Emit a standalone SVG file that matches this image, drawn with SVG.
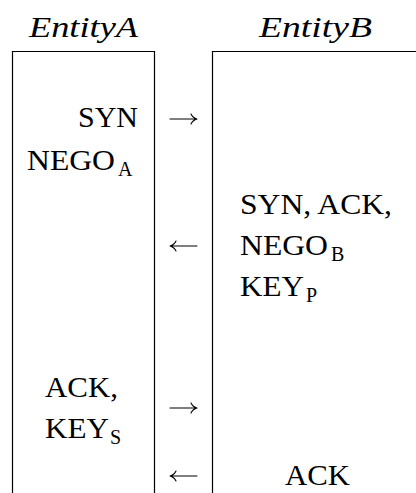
<svg xmlns="http://www.w3.org/2000/svg" width="416" height="493" viewBox="0 0 416 493">
<style>
  .t { font-family: "Liberation Serif", "DejaVu Serif", serif; font-size: 29px; fill: #000; }
  .h { font-style: italic; }
  .s { font-family: "Liberation Serif", "DejaVu Serif", serif; font-size: 20px; fill: #000; }
  .ln { stroke: #000; stroke-width: 1.2; fill: none; }
  .ar { stroke: #000; stroke-width: 1.1; fill: none; stroke-linecap: round; }
</style>
<rect width="416" height="493" fill="#fff"/>
<g id="entityA">
  <text class="t h" x="29" y="37" textLength="109" lengthAdjust="spacingAndGlyphs">EntityA</text>
  <path class="ln" d="M12.5 493 V51.5 H154.5 V493"/>
  <text class="t" x="78" y="127" textLength="60" lengthAdjust="spacingAndGlyphs">SYN</text>
  <text class="t" x="27" y="170" textLength="88" lengthAdjust="spacingAndGlyphs">NEGO</text>
  <text class="s" x="118" y="176">A</text>
  <text class="t" x="45" y="397" textLength="73" lengthAdjust="spacingAndGlyphs">ACK,</text>
  <text class="t" x="45" y="438" textLength="64" lengthAdjust="spacingAndGlyphs">KEY</text>
  <text class="s" x="110" y="444">S</text>
</g>
<g id="entityB">
  <text class="t h" x="259" y="37" textLength="113" lengthAdjust="spacingAndGlyphs">EntityB</text>
  <path class="ln" d="M212.5 493 V51.5 H416"/>
  <text class="t" x="240" y="214" textLength="152" lengthAdjust="spacingAndGlyphs">SYN, ACK,</text>
  <text class="t" x="240" y="255" textLength="88" lengthAdjust="spacingAndGlyphs">NEGO</text>
  <text class="s" x="331" y="261">B</text>
  <text class="t" x="240" y="296" textLength="64" lengthAdjust="spacingAndGlyphs">KEY</text>
  <text class="s" x="306" y="302">P</text>
  <text class="t" x="285" y="485" textLength="65" lengthAdjust="spacingAndGlyphs">ACK</text>
</g>
<g id="connectors">
  <path class="ar" d="M170 119 H197 M191 114 Q193 118 197 119 Q193 120 191 124"/>
  <path class="ar" d="M197 246 H170 M176 241 Q174 245 170 246 Q174 247 176 251"/>
  <path class="ar" d="M170 408 H197 M191 403 Q193 407 197 408 Q193 409 191 413"/>
  <path class="ar" d="M197 476 H170 M176 471 Q174 475 170 476 Q174 477 176 481"/>
</g>
</svg>
